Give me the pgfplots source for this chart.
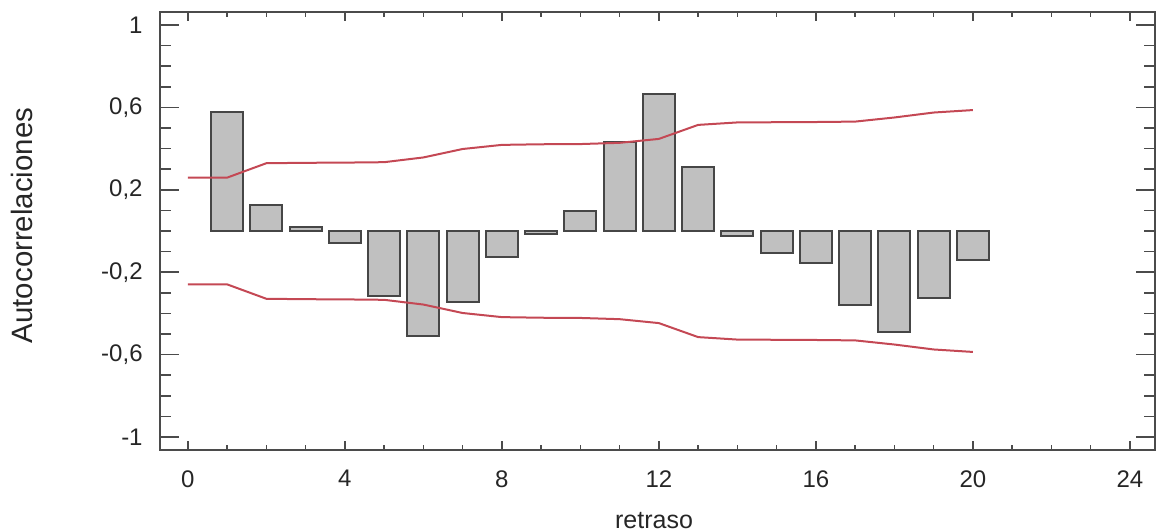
\documentclass[border=0pt]{standalone}
\usepackage{fontspec}
\setmainfont{Liberation Sans}
\usepackage{pgfplots}
\pgfplotsset{compat=1.18}
\definecolor{barfill}{RGB}{192,192,192}
\definecolor{bardraw}{RGB}{70,70,70}
\definecolor{limred}{RGB}{196,72,84}
\definecolor{axgray}{RGB}{75,75,75}

\pgfplotsset{
  acfbase/.style={
    width=497.5pt, height=219pt, scale only axis,
    at={(0,0)}, anchor=south west,
    xmin=-0.71, xmax=24.64,
    ymin=-1.063, ymax=1.063,
    axis line style={axgray, line width=0.75pt},
    tick style={axgray, line width=0.75pt},
    tick align=inside,
    tick label style={font=\fontsize{12}{14}\selectfont, text=black!85},
  }
}

\begin{document}
\begin{tikzpicture}
\useasboundingbox (-80pt,-40.5pt) rectangle (498.5pt,225pt);

% y ticks, labels and data
\begin{axis}[
  acfbase,
  xtick=\empty,
  ytick={-1,-0.6,-0.2,0.2,0.6,1},
  yticklabels={-1,{-0,6},{-0,2},{0,2},{0,6},1},
  minor y tick num=3,
  major tick length=9.5pt,
  minor tick length=5.5pt,
  yticklabel style={inner sep=0pt, xshift=-8.5pt},
  ylabel={Autocorrelaciones},
  ylabel style={at={(axis description cs:-0.1387,0.5126)}, anchor=center,
    rotate=0, font=\fontsize{14.7}{16}\selectfont, text=black!85},
  xlabel={retraso},
  xlabel style={at={(axis description cs:0.4965,-0.16)}, anchor=center,
    font=\fontsize{12.5}{14}\selectfont, text=black!85},
]
\addplot[ybar, bar width=0.82, bar shift=0pt, fill=barfill, draw=bardraw, line width=1pt]
coordinates {
  (1,0.58) (2,0.126) (3,0.021) (4,-0.056) (5,-0.316)
  (6,-0.51) (7,-0.343) (8,-0.126) (9,-0.016) (10,0.097)
  (11,0.43) (12,0.664) (13,0.313) (14,-0.024) (15,-0.108)
  (16,-0.153) (17,-0.357) (18,-0.488) (19,-0.323) (20,-0.141)
};
% upper limit
\addplot[limred, line width=1pt, no markers] coordinates {
  (0,0.259) (1,0.259) (2,0.329) (3,0.331) (4,0.332) (5,0.334)
  (6,0.357) (7,0.398) (8,0.418) (9,0.421) (10,0.422) (11,0.428)
  (12,0.447) (13,0.515) (14,0.527) (15,0.528) (16,0.529) (17,0.531)
  (18,0.551) (19,0.575) (20,0.587)
};
% lower limit
\addplot[limred, line width=1pt, no markers] coordinates {
  (0,-0.259) (1,-0.259) (2,-0.329) (3,-0.331) (4,-0.332) (5,-0.334)
  (6,-0.357) (7,-0.398) (8,-0.418) (9,-0.421) (10,-0.422) (11,-0.428)
  (12,-0.447) (13,-0.515) (14,-0.527) (15,-0.528) (16,-0.529) (17,-0.531)
  (18,-0.551) (19,-0.575) (20,-0.587)
};
\end{axis}

% x ticks (shorter)
\begin{axis}[
  acfbase,
  ytick=\empty,
  xtick={0,4,8,12,16,20,24},
  xticklabels={0,4,8,12,16,20,24},
  minor x tick num=3,
  major tick length=4.5pt,
  minor tick length=2.5pt,
  xticklabel style={inner sep=0pt, yshift=-10pt},
]
\end{axis}
\end{tikzpicture}
\end{document}
